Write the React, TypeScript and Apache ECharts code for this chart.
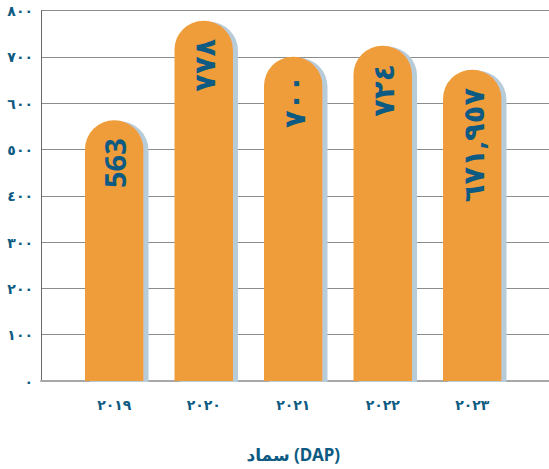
import React, { useEffect, useRef } from "react";
import * as echarts from "echarts";

const categories = ["٢٠١٩", "٢٠٢٠", "٢٠٢١", "٢٠٢٢", "٢٠٢٣"];
const values = [563, 778, 700, 724, 672];
const barLabels = ["563", "٧٧٨", "٧٠٠", "٧٢٤", "٦٧١,٩٥٧"];
const yTickValues = [0, 100, 200, 300, 400, 500, 600, 700, 800];
const yTickLabels = ["٠", "١٠٠", "٢٠٠", "٣٠٠", "٤٠٠", "٥٠٠", "٦٠٠", "٧٠٠", "٨٠٠"];
const axisName = "سماد (DAP)";

const BLUE = "#0d5a82";
const ORANGE = "#ef9d3a";
const FONT = "'Noto Sans', 'DejaVu Sans', sans-serif";

export default function App() {
  const ref = useRef<HTMLDivElement>(null);
  useEffect(() => {
    if (!ref.current) return;
    const chart = echarts.init(ref.current, null, { renderer: "svg" });
    const top = 10.5;
    const bottom = 88;
    chart.setOption({
      animation: false,
      backgroundColor: "#ffffff",
      grid: [
        { left: 41, right: 0, top, bottom },
        { left: 69.5, right: 32, top, bottom },
      ],
      xAxis: [
        {
          gridIndex: 0,
          type: "value",
          min: 0,
          max: 1,
          axisLine: { show: true, lineStyle: { color: "#a8a8a8", width: 2 } },
          axisTick: { show: false },
          axisLabel: { show: false },
          splitLine: { show: false },
        },
        {
          gridIndex: 1,
          type: "category",
          data: categories,
          axisLine: { show: false },
          axisTick: { show: false },
          axisLabel: {
            color: BLUE,
            fontSize: 14,
            fontWeight: "bold",
            fontFamily: FONT,
            margin: 16,
          },
          name: axisName,
          nameLocation: "middle",
          nameGap: 65,
          nameTextStyle: {
            color: BLUE,
            fontSize: 17,
            fontWeight: "bold",
            fontFamily: FONT,
          },
        },
      ],
      yAxis: [
        {
          gridIndex: 0,
          type: "value",
          min: 0,
          max: 800,
          interval: 100,
          axisLine: { show: true, lineStyle: { color: "#6a6a6a", width: 1 } },
          axisTick: { show: false },
          axisLabel: {
            color: BLUE,
            fontSize: 14,
            fontWeight: "bold",
            fontFamily: FONT,
            margin: 8,
            formatter: (v: number) => {
              const i = yTickValues.indexOf(v);
              return i >= 0 ? yTickLabels[i] : "";
            },
          },
          splitLine: { show: true, lineStyle: { color: "#8c8c8c", width: 1 } },
        },
        {
          gridIndex: 1,
          type: "value",
          min: 0,
          max: 800,
          interval: 100,
          show: false,
        },
      ],
      series: [
        {
          type: "bar",
          xAxisIndex: 1,
          yAxisIndex: 1,
          data: values,
          barWidth: 58.5,
          itemStyle: {
            color: ORANGE,
            borderRadius: [29, 29, 0, 0],
            shadowColor: "#b6ccd9",
            shadowBlur: 0,
            shadowOffsetX: 5,
            shadowOffsetY: 1,
          },
          label: {
            show: true,
            position: "insideTop",
            rotate: 90,
            align: "right",
            verticalAlign: "middle",
            distance: 18,
            color: BLUE,
            fontSize: 29,
            fontWeight: "bold",
            fontFamily: FONT,
            formatter: (p: any) => barLabels[p.dataIndex],
          },
        },
      ],
    });
    return () => chart.dispose();
  }, []);
  return (
    <div
      ref={ref}
      style={{ position: "fixed", left: 0, top: 0, width: 549, height: 469 }}
    />
  );
}
